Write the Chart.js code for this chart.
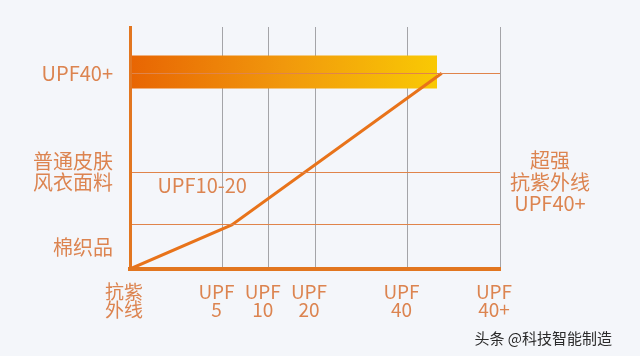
<!DOCTYPE html>
<html><head><meta charset="utf-8">
<style>html,body{margin:0;padding:0;background:#f4f6fa;}#wrap{width:640px;height:356px;position:relative;}</style>
<script src="https://cdn.jsdelivr.net/npm/chart.js@4/dist/chart.umd.min.js"></script>
</head><body><div id="wrap"><canvas id="c"></canvas></div>
<script>
// ---- data ----
const xTickValues = [0, 10, 15, 20, 30, 40];
const xTickLabels = [['抗紫','外线'], ['UPF','5'], ['UPF','10'], ['UPF','20'], ['UPF','40'], ['UPF','40+']];
const yGridValues = [20, 44, 89];
const yLabelValues = [10, 44, 89];
const yTickLabels = [['棉织品'], ['普通皮肤','风衣面料'], ['UPF40+']];
const lineX = [0, 11, 33.7];
const lineY = [0, 20, 89];
const bandX = [0, 33.2];
const bandTop = [97, 97];
const bandBottom = [82, 82];
const rightLabelValue = [39.5];
const rightLabel = [['超强','抗紫外线','UPF40+']];
const noteText = 'UPF10-20';
const notePos = [7.8, 38.2];
const watermark = '头条 @科技智能制造';

const FONT = '"Noto Sans CJK SC", "Noto Sans", sans-serif';
const TXT = '#dc8450';
const yTicksAll = [0, 110, ...yGridValues, ...yLabelValues].filter((v,i,a)=>a.indexOf(v)===i).sort((a,b)=>a-b);

const notePlugin = {
  id: 'note',
  afterDatasetsDraw(chart) {
    const {ctx, scales} = chart;
    ctx.save();
    ctx.font = '20px ' + FONT;
    ctx.fillStyle = TXT;
    ctx.textAlign = 'center';
    ctx.textBaseline = 'middle';
    ctx.fillText(noteText, scales.x.getPixelForValue(notePos[0]), scales.y.getPixelForValue(notePos[1]));
    ctx.restore();
  }
};
const noPad = (s) => { s.paddingTop = 0; s.paddingBottom = 0; s.paddingLeft = 0; s.paddingRight = 0; };

new Chart(document.getElementById('c'), {
  type: 'line',
  data: {
    datasets: [
      {
        data: lineX.map((x,i)=>({x, y: lineY[i]})),
        borderColor: '#e8731a', borderWidth: 3, pointRadius: 0, tension: 0, fill: false
      },
      {
        data: bandX.map((x,i)=>({x, y: bandTop[i]})),
        borderColor: 'transparent', borderWidth: 0, pointRadius: 0,
        fill: '+1',
        backgroundColor: (c) => {
          const ch = c.chart;
          if (!ch.chartArea) return '#f0a010';
          const xs = ch.scales.x;
          const g = ch.ctx.createLinearGradient(xs.getPixelForValue(bandX[0]), 0, xs.getPixelForValue(bandX[1]), 0);
          g.addColorStop(0, '#e86503');
          g.addColorStop(0.5, '#f1980c');
          g.addColorStop(1, '#f9c904');
          return g;
        }
      },
      {
        data: bandX.map((x,i)=>({x, y: bandBottom[i]})),
        borderColor: 'transparent', borderWidth: 0, pointRadius: 0, fill: false
      }
    ]
  },
  options: {
    responsive: true, maintainAspectRatio: false, animation: false,
    layout: { padding: { top: 27, left: 0, right: 28, bottom: 0 } },
    plugins: {
      legend: { display: false }, tooltip: { enabled: false },
      title: {
        display: true, text: watermark, position: 'bottom', align: 'end',
        color: '#2a2a2a', font: { size: 15, family: FONT, weight: 'normal' },
        padding: { top: 0, bottom: 9 }
      }
    },
    scales: {
      x: {
        type: 'linear', min: 0, max: 40,
        afterBuildTicks: (s) => { s.ticks = xTickValues.map(v => ({ value: v })); },
        afterFit: (s) => { s.height = 60; noPad(s); },
        ticks: {
          callback: (v) => { const i = xTickValues.indexOf(v); return i >= 0 ? xTickLabels[i] : ''; },
          color: TXT, font: { size: 19, family: FONT, lineHeight: 0.95 },
          padding: 14, labelOffset: -6, maxRotation: 0, autoSkip: false
        },
        grid: {
          drawTicks: false, lineWidth: 1,
          color: (c) => c.tick && c.tick.value === 0 ? 'transparent' : '#a4a4a8'
        },
        border: { display: true, color: '#e27620', width: 4, z: 2 }
      },
      y: {
        type: 'linear', min: 0, max: 110,
        afterBuildTicks: (s) => { s.ticks = yTicksAll.map(v => ({ value: v })); },
        afterFit: (s) => { s.width = 130; noPad(s); },
        ticks: {
          callback: (v) => { const i = yLabelValues.indexOf(v); return i >= 0 ? yTickLabels[i] : ''; },
          color: TXT, font: { size: 20, family: FONT, lineHeight: 1.05 },
          padding: 17, autoSkip: false
        },
        grid: {
          drawTicks: false, lineWidth: 1, z: 1,
          color: (c) => c.tick && yGridValues.includes(c.tick.value) ? '#e0844a' : 'transparent'
        },
        border: { display: true, color: '#e27620', width: 3, z: 2 }
      },
      y2: {
        type: 'linear', position: 'right', min: 0, max: 110,
        afterBuildTicks: (s) => { s.ticks = rightLabelValue.map(v => ({ value: v })); },
        afterFit: (s) => { s.width = 112; noPad(s); },
        ticks: {
          callback: (v) => rightLabel[rightLabelValue.indexOf(v)],
          color: TXT, font: { size: 20, family: FONT, lineHeight: 1.07 },
          padding: 10, crossAlign: 'center', autoSkip: false
        },
        grid: { display: false, drawTicks: false },
        border: { display: false }
      }
    }
  },
  plugins: [notePlugin]
});
</script>
</body></html>
